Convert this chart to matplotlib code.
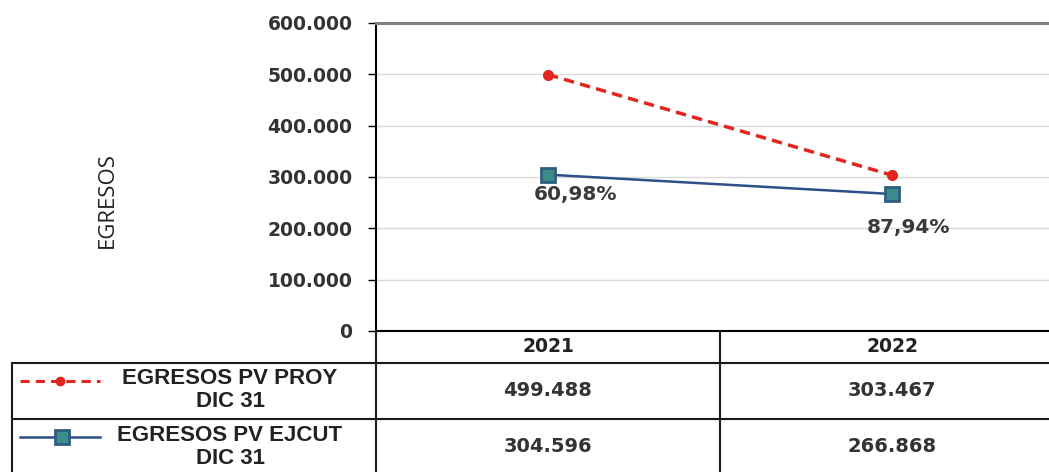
import matplotlib
matplotlib.use('Agg')
import matplotlib.pyplot as plt
from matplotlib.lines import Line2D
from matplotlib.ticker import FuncFormatter
import matplotlib.transforms as mtransforms

years = ['2021', '2022']
proy = [499488, 303467]
ejcut = [304596, 266868]
pct_labels = ['60,98%', '87,94%']
series_names = ['EGRESOS PV PROY\nDIC 31', 'EGRESOS PV EJCUT\nDIC 31']
yticks = [0, 100000, 200000, 300000, 400000, 500000, 600000]

W, H = 1049, 472
RED = '#e3241f'
BLUE = '#2d4f8c'
SQ_FACE = '#3e8c8a'
SQ_EDGE = '#2d5d80'
TXT = '#333333'


def fx(x):
    return x / W


def fy(y):
    return 1 - y / H


def thousands(v, pos):
    if v == 0:
        return '0'
    return '{:,.0f}'.format(v).replace(',', '.')


fig = plt.figure(figsize=(W / 100, H / 100), dpi=100)
ax = fig.add_axes([fx(376), fy(331), (1064 - 376) / W, (331 - 23) / H])

x = list(range(len(years)))
ax.plot(x, proy, '--', color=RED, lw=2.5, dashes=(3, 1.8),
        marker='o', ms=7, mfc=RED, mec=RED, zorder=3)
ax.plot(x, ejcut, '-', color=BLUE, lw=1.8,
        marker='s', ms=10, mfc=SQ_FACE, mec=SQ_EDGE, mew=2, zorder=3)

offsets = [(20, -14), (12, -24)]
for i, lab in enumerate(pct_labels):
    ax.annotate(lab, (x[i], ejcut[i]), xytext=offsets[i], textcoords='offset points',
                ha='center', va='center', fontsize=14.5, fontweight='bold',
                color='#3a3a3a', family='DejaVu Sans')

ax.set_xlim(-0.5, 1.5)
ax.set_ylim(0, 600000)
ax.set_yticks(yticks)
ax.yaxis.set_major_formatter(FuncFormatter(thousands))
ax.set_xticks([])
ax.tick_params(axis='y', direction='out', length=6, width=1, pad=11,
               labelsize=13.5, labelcolor=TXT)
for t in ax.get_yticklabels():
    t.set_fontweight('bold')
    t.set_family('DejaVu Sans')
ax.grid(axis='y', color='#d9d9d9', lw=1)
ax.set_axisbelow(True)
ax.spines['right'].set_visible(False)
ax.spines['top'].set_color('#808080')
ax.spines['top'].set_linewidth(2.2)
ax.spines['left'].set_linewidth(1.5)
ax.spines['bottom'].set_linewidth(1.5)

fig.text(fx(107), fy(200), 'EGRESOS', rotation=90, ha='center', va='center',
         fontsize=16, color='#222222', family='Open Sans')

# data table under the axis
lc = '#1a1a1a'
lw = 1.5
table_lines = [
    ((12, W), (363, 363)),
    ((12, W), (419, 419)),
    ((12, 12), (363, H)),
    ((376, 376), (331, H)),
    ((720, 720), (331, H)),
]
for xs, ys in table_lines:
    fig.add_artist(Line2D([fx(v) for v in xs], [fy(v) for v in ys], color=lc, lw=lw))

trans = mtransforms.blended_transform_factory(ax.transData, fig.transFigure)
for i, yr in enumerate(years):
    fig.text(x[i], fy(346), yr, transform=trans, ha='center', va='center',
             fontsize=13.5, fontweight='bold', color='#222222', family='DejaVu Sans')
    fig.text(x[i], fy(391), thousands(proy[i], None), transform=trans, ha='center',
             va='center', fontsize=14, fontweight='bold', color=TXT, family='DejaVu Sans')
    fig.text(x[i], fy(446), thousands(ejcut[i], None), transform=trans, ha='center',
             va='center', fontsize=14, fontweight='bold', color=TXT, family='DejaVu Sans')

# legend keys inside the table
fig.add_artist(Line2D([fx(20), fx(100)], [fy(381), fy(381)], color=RED, lw=2.2,
                      dashes=(3, 2)))
fig.add_artist(Line2D([fx(60)], [fy(381)], marker='o', ms=6, mfc=RED, mec=RED))
fig.add_artist(Line2D([fx(20), fx(100)], [fy(437), fy(437)], color=BLUE, lw=1.8))
fig.add_artist(Line2D([fx(62)], [fy(437)], marker='s', ms=10, mfc=SQ_FACE,
                      mec=SQ_EDGE, mew=2))
fig.text(fx(230), fy(390), series_names[0], ha='center', va='center', fontsize=16,
         fontweight='bold', color='#222222', family='Liberation Sans', linespacing=1.1)
fig.text(fx(230), fy(447), series_names[1], ha='center', va='center', fontsize=16,
         fontweight='bold', color='#222222', family='Liberation Sans', linespacing=1.1)

fig.savefig('out.png', dpi=100)
